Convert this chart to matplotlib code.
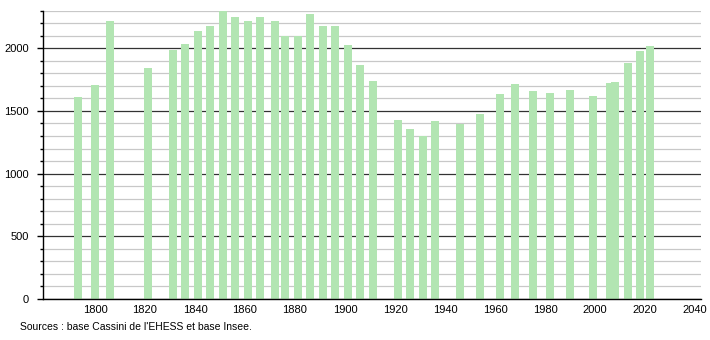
import matplotlib
matplotlib.use('Agg')
import matplotlib.pyplot as plt
import numpy as np

plt.rcParams['font.family'] = ['Liberation Sans', 'DejaVu Sans']

# Données : années de recensement et population
years = [1793, 1800, 1806, 1821, 1831, 1836, 1841, 1846, 1851, 1856,
         1861, 1866, 1872, 1876, 1881, 1886, 1891, 1896, 1901, 1906,
         1911, 1921, 1926, 1931, 1936, 1946, 1954, 1962, 1968, 1975,
         1982, 1990, 1999, 2006, 2008, 2013, 2018, 2022]
population = [1612, 1705, 2218, 1843, 1986, 2034, 2138, 2178, 2298, 2250,
              2218, 2250, 2218, 2098, 2098, 2274, 2178, 2178, 2026, 1866,
              1739, 1428, 1357, 1301, 1420, 1394, 1476, 1636, 1716, 1660,
              1644, 1668, 1620, 1720, 1733, 1883, 1978, 2018]
x_ticks = [1800, 1820, 1840, 1860, 1880, 1900, 1920, 1940, 1960, 1980, 2000, 2020, 2040]
y_major = [0, 500, 1000, 1500, 2000]

BAR = '#b2e5b2'
GRID_MINOR = '#c8c8c8'
GRID_MAJOR = '#333333'

fig = plt.figure(figsize=(7.1, 3.4), dpi=100)
ax = fig.add_axes([0.0606, 0.1206, 0.9264, 0.848])

# grille
for v in range(0, 2301, 100):
    if v % 500 == 0:
        ax.axhline(v, color=GRID_MAJOR, lw=0.9, zorder=1)
    else:
        ax.axhline(v, color=GRID_MINOR, lw=0.9, zorder=1)

ax.bar(years, population, width=3.2, color=BAR, zorder=2)

ax.set_xlim(1779.2, 2042.3)
ax.set_ylim(0, 2300)

ax.set_xticks(x_ticks)
ax.set_xticklabels([str(t) for t in x_ticks], fontsize=8)
ax.tick_params(axis='x', length=0, pad=4)

ax.set_yticks(y_major)
ax.set_yticklabels([str(t) for t in y_major], fontsize=8)
ax.set_yticks(np.arange(0, 2301, 100), minor=True)
ax.tick_params(axis='y', which='major', length=4, width=1, color='black', pad=6)
ax.tick_params(axis='y', which='minor', length=2, width=1, color='black')

for s in ['top', 'right']:
    ax.spines[s].set_visible(False)
ax.spines['left'].set_color('black')
ax.spines['bottom'].set_color('black')
ax.spines['left'].set_linewidth(1)
ax.spines['bottom'].set_linewidth(1)

fig.text(20 / 710, 1 - 327 / 340, "Sources : base Cassini de l'EHESS et base Insee.",
         fontsize=7.5, ha='left', va='center')

fig.savefig('out.png', dpi=100)
